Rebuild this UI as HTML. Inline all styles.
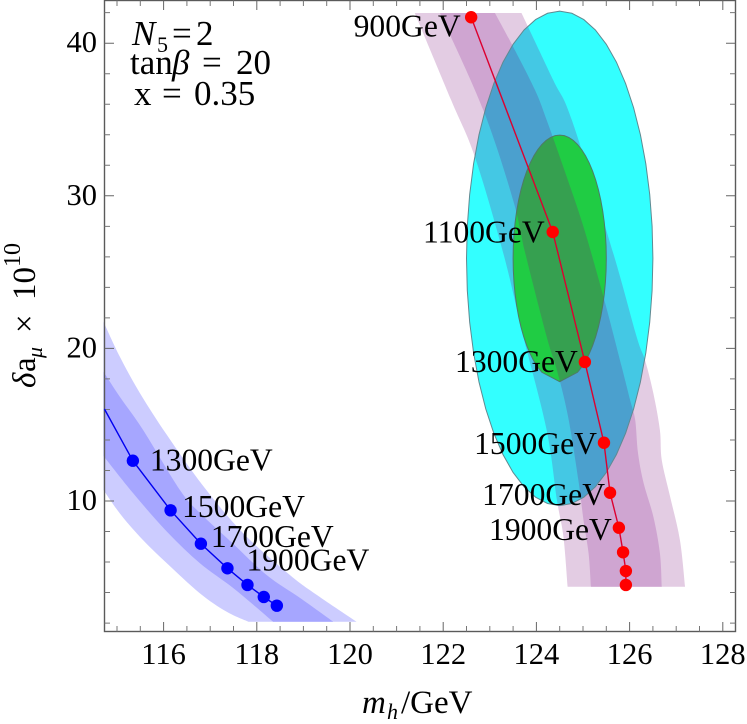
<!DOCTYPE html>
<html lang="en">
<head>
<meta charset="utf-8">
<title>Higgs mass vs muon g-2 chart</title>
<style>
html,body{margin:0;padding:0;background:#fff;width:747px;height:724px;overflow:hidden}
svg{display:block;font-family:"Liberation Serif","DejaVu Serif",serif;fill:#000}
</style>
</head>
<body>
<svg id="chart" width="747" height="724" viewBox="0 0 747 724" xmlns="http://www.w3.org/2000/svg">
  <defs>
    <clipPath id="cyan-clip"><path id="cyan-clip-path"/></clipPath>
    <clipPath id="green-clip"><path id="green-clip-path"/></clipPath>
  </defs>
  <g id="layer-bands"></g>
  <g id="layer-axes"></g>
  <g id="layer-lines"></g>
  <g id="layer-labels"></g>
  <g id="layer-points"></g>
  <g font-size="35">
    <text y="45"><tspan x="132" font-style="italic">N</tspan><tspan x="157" font-size="22" dy="7">5</tspan><tspan x="172" dy="-7">=</tspan><tspan x="196">2</tspan></text>
    <text y="74"><tspan x="130">tan</tspan><tspan x="172" font-style="italic">β</tspan><tspan x="202">=</tspan><tspan x="236">20</tspan></text>
    <text y="105"><tspan x="134">x</tspan><tspan x="162">=</tspan><tspan x="194">0.35</tspan></text>
  </g>
  <text y="713" font-size="33"><tspan x="362" font-style="italic">m</tspan><tspan x="387" font-style="italic" font-size="22" dy="6">h</tspan><tspan x="401" dy="-6">/GeV</tspan></text>
  <text transform="translate(35,388) rotate(-90)" font-size="33"><tspan x="0" font-style="italic">δ</tspan><tspan x="16">a</tspan><tspan x="30" font-style="italic" font-size="22" dy="7">μ</tspan><tspan x="55" dy="-7">×</tspan><tspan x="88">10</tspan><tspan x="121" font-size="24" dy="-15">10</tspan></text>
</svg>
<script>
// Axis ticks
const xTickLabels = [116, 118, 120, 122, 124, 126, 128];
const yTickLabels = [10, 20, 30, 40];
const xMinorTicks = [115, 115.5, 116.5, 117, 117.5, 118.5, 119, 119.5, 120.5, 121, 121.5, 122.5, 123, 123.5, 124.5, 125, 125.5, 126.5, 127, 127.5];
const yMinorTicks = [2, 4, 6, 8, 12, 14, 16, 18, 22, 24, 26, 28, 32, 34, 36, 38, 42];

// Red series
const redX = [122.6, 124.35, 125.04, 125.45, 125.58, 125.77, 125.86, 125.92, 125.92];
const redY = [41.7, 27.63, 19.11, 13.82, 10.54, 8.25, 6.64, 5.41, 4.5];
const redLabels = ["900GeV", "1100GeV", "1300GeV", "1500GeV", "1700GeV", "1900GeV"];

// Blue series
const blueX = [114.73, 115.34, 116.15, 116.80, 117.37, 117.80, 118.15, 118.43];
const blueY = [16.03, 12.64, 9.39, 7.2, 5.59, 4.5, 3.71, 3.14];
const blueLabels = ["1300GeV", "1500GeV", "1700GeV", "1900GeV"];

// Red uncertainty bands
const redOuterLeftX = [121.39, 122.17, 122.68, 123.29, 123.72, 124.22, 124.44, 124.58, 124.67];
const redOuterLeftY = [41.98, 36.28, 32.54, 26.23, 20.77, 14.65, 10.07, 7.66, 4.38];
const redOuterRightX = [123.68, 124.36, 124.76, 125.65, 126.15, 126.33, 126.51, 126.65, 126.69, 126.87, 127.08, 127.19];
const redOuterRightY = [41.98, 37.59, 34.97, 26.23, 20.77, 19.24, 17.05, 14.65, 12.69, 10.28, 7.44, 4.38];
const redInnerLeftX = [121.93, 122.86, 123.50, 123.76, 124.22, 124.44, 124.68, 124.90, 125.01, 125.12, 125.17];
const redInnerLeftY = [41.98, 35.62, 29.72, 26.25, 20.77, 18.58, 15.52, 11.38, 8.75, 6.57, 4.38];
const redInnerRightX = [123.11, 123.50, 123.97, 124.22, 124.61, 125.01, 125.44, 125.83, 126.01, 126.12, 126.18, 126.30, 126.51, 126.65, 126.69];
const redInnerRightY = [41.98, 39.77, 36.93, 34.97, 31.6, 27.97, 23.37, 18.8, 16.62, 15.31, 13.15, 11.18, 8.97, 6.59, 4.38];

// Blue uncertainty bands
const blueOuterUpperX = [114.71, 115.06, 115.49, 116.07, 116.85, 117.71, 118.71, 119.29, 120.14];
const blueOuterUpperY = [21.75, 19.46, 17.08, 14.33, 10.98, 7.88, 5.15, 3.84, 2.09];
const blueOuterLowerX = [114.71, 115.06, 115.49, 116.07, 116.78, 117.35, 117.82];
const blueOuterLowerY = [10.72, 9.19, 7.66, 5.92, 3.95, 2.75, 2.09];
const blueInnerUpperX = [114.71, 115.06, 115.56, 116.35, 116.78, 117.49, 118.21, 118.93, 119.64];
const blueInnerUpperY = [18.47, 16.83, 14.65, 10.72, 9.21, 7.2, 5.15, 3.64, 2.09];
const blueInnerLowerX = [114.71, 115.35, 116.07, 116.78, 117.5, 118.35];
const blueInnerLowerY = [12.95, 10.5, 7.99, 5.92, 4.28, 2.09];

// Experimental ellipses: centre x, centre y, half-width, half-height
const cyanEllipse = [124.5, 25.9, 2.0, 16.2];
const greenEllipse = [124.5, 25.9, 1.0, 8.08];

// Axis functions
function sx(v) { return 350 + (v - 120) * 46.6; }
function sy(v) { return 501 - (v - 10) * 15.26; }

const NS = "http://www.w3.org/2000/svg";
function make(tag, attrs, parent) {
  const node = document.createElementNS(NS, tag);
  for (const k in attrs) node.setAttribute(k, attrs[k]);
  parent.appendChild(node);
  return node;
}
function smoothSegment(pts) {
  let d = "";
  for (let i = 0; i < pts.length - 1; i++) {
    const p0 = pts[Math.max(i - 1, 0)], p1 = pts[i], p2 = pts[i + 1], p3 = pts[Math.min(i + 2, pts.length - 1)];
    d += " C" + (p1[0] + (p2[0] - p0[0]) / 6).toFixed(2) + " " + (p1[1] + (p2[1] - p0[1]) / 6).toFixed(2) + " " +
      (p2[0] - (p3[0] - p1[0]) / 6).toFixed(2) + " " + (p2[1] - (p3[1] - p1[1]) / 6).toFixed(2) + " " +
      p2[0].toFixed(2) + " " + p2[1].toFixed(2);
  }
  return d;
}
function toPixels(xs, ys) { return xs.map(function (x, i) { return [sx(x), sy(ys[i])]; }); }
function bandPath(xa, ya, xb, yb) {
  const a = toPixels(xa, ya), b = toPixels(xb, yb).reverse();
  return "M" + a[0][0].toFixed(2) + " " + a[0][1].toFixed(2) + smoothSegment(a) +
    " L" + b[0][0].toFixed(2) + " " + b[0][1].toFixed(2) + smoothSegment(b) + " Z";
}
function ellipsePath(e, steps, gapDeg) {
  const cx = sx(e[0]), cy = sy(e[1]), rx = e[2] * 46.6, ry = e[3] * 15.26;
  let d = "";
  let first = true;
  for (let i = 0; i < steps; i++) {
    const deg = 360 * i / steps;
    const fromBottom = Math.min(deg, 360 - deg);
    if (fromBottom > 0 && fromBottom < gapDeg) continue;
    const t = deg * Math.PI / 180;
    const px = cx + rx * Math.sin(t), py = cy + ry * Math.cos(t);
    d += (first ? "M" : "L") + px.toFixed(2) + " " + py.toFixed(2) + " ";
    first = false;
  }
  return d + "Z";
}

const bands = document.getElementById("layer-bands");
const redOuterD = bandPath(redOuterLeftX, redOuterLeftY, redOuterRightX, redOuterRightY);
const redInnerD = bandPath(redInnerLeftX, redInnerLeftY, redInnerRightX, redInnerRightY);
const cyanD = ellipsePath(cyanEllipse, 48, 0);
const greenD = ellipsePath(greenEllipse, 64, 22);
document.getElementById("cyan-clip-path").setAttribute("d", cyanD);
document.getElementById("green-clip-path").setAttribute("d", greenD);

// Blue bands
const blueOuter = make("path", { d: bandPath(blueOuterUpperX, blueOuterUpperY, blueOuterLowerX, blueOuterLowerY), fill: "#ccccff" }, bands);


const blueInner = make("path", { d: bandPath(blueInnerUpperX, blueInnerUpperY, blueInnerLowerX, blueInnerLowerY), fill: "#a6a6ff" }, bands);



// Red bands
const redOuter = make("path", { d: redOuterD, fill: "#e3cce3" }, bands);


const redInner = make("path", { d: redInnerD, fill: "#cfa5d1" }, bands);



// Cyan ellipse with band overlaps
const cyanFill = make("path", { d: cyanD, fill: "#33ffff" }, bands);


const cyanGroup = make("g", { "clip-path": "url(#cyan-clip)" }, bands);


make("path", { d: redOuterD, fill: "#44c8e4" }, cyanGroup);
make("path", { d: redInnerD, fill: "#4ba0ce" }, cyanGroup);
const cyanEdge = make("path", { d: cyanD, fill: "none", stroke: "#5f8a92", "stroke-width": "1" }, bands);



// Green ellipse with band overlap
const greenFill = make("path", { d: greenD, fill: "#20cc44" }, bands);


const greenGroup = make("g", { "clip-path": "url(#green-clip)" }, bands);


make("path", { d: redInnerD, fill: "#36a050" }, greenGroup);
const greenEdge = make("path", { d: greenD, fill: "none", stroke: "#4f7a68", "stroke-width": "1" }, bands);



// Axes
const axes = document.getElementById("layer-axes");
const frame = make("rect", { x: 104.5, y: 0.5, width: 631, height: 631, fill: "none", stroke: "#5a5a5a", "stroke-width": "1.4" }, axes);


function xTick(v, len, col) {
  const x = sx(v);
  make("path", { d: "M" + x + " 631.5V" + (631.5 - len) + "M" + x + " 0.5V" + (0.5 + len), stroke: col, "stroke-width": "1", fill: "none" }, axes);
}
function yTick(v, len, col) {
  const y = sy(v);
  make("path", { d: "M104.5 " + y + "H" + (104.5 + len) + "M735.5 " + y + "H" + (735.5 - len), stroke: col, "stroke-width": "1", fill: "none" }, axes);
}
xMinorTicks.forEach(function (v) { xTick(v, 5.5, "#777"); });
yMinorTicks.forEach(function (v) { yTick(v, 5.5, "#777"); });
xTickLabels.forEach(function (v) {
  xTick(v, 9.5, "#666");
  const t = make("text", { x: sx(v), y: 664, "text-anchor": "middle", "font-size": "30.5" }, axes);
  t.textContent = String(v);
  
  
});
yTickLabels.forEach(function (v) {
  yTick(v, 9.5, "#666");
  const t = make("text", { x: 97, y: sy(v) + 9, "text-anchor": "end", "font-size": "30.5" }, axes);
  t.textContent = String(v);
  
  
});

// Series lines
const lines = document.getElementById("layer-lines");
function seriesPath(xs, ys) {
  const p = toPixels(xs, ys);
  return "M" + p.map(function (q) { return q[0].toFixed(2) + " " + q[1].toFixed(2); }).join(" L");
}
const redLine = make("path", { d: seriesPath(redX, redY), fill: "none", stroke: "#dc0030", "stroke-width": "1.4" }, lines);


const blueLine = make("path", { d: seriesPath(blueX, blueY), fill: "none", stroke: "#0000f0", "stroke-width": "1.4" }, lines);



// Point labels (placed relative to their points)
const labels = document.getElementById("layer-labels");
const redGapX = [10.5, 8, 7, 7, 5, 7];
const redGapY = [19, 10.7, 10, 11.3, 12, 12.3];
redLabels.forEach(function (s, i) {
  const t = make("text", { x: sx(redX[i]) - redGapX[i], y: sy(redY[i]) + redGapY[i], "text-anchor": "end", "font-size": "31.6" }, labels);
  t.textContent = s;
  
  
});
const blueGapX = [17, 11.5, 10, 19];
const blueGapY = [10, 6.7, 3.3, 2.4];
blueLabels.forEach(function (s, i) {
  const t = make("text", { x: sx(blueX[i + 1]) + blueGapX[i], y: sy(blueY[i + 1]) + blueGapY[i], "font-size": "31.6" }, labels);
  t.textContent = s;
  
  
});

// Series points
const points = document.getElementById("layer-points");
redX.forEach(function (x, i) {
  const c = make("circle", { cx: sx(x), cy: sy(redY[i]), r: 6.2, fill: "#ff0000" }, points);
  
  
});
blueX.slice(1).forEach(function (x, i) {
  const c = make("circle", { cx: sx(x), cy: sy(blueY[i + 1]), r: 6.2, fill: "#0000ff" }, points);
  
  
});
</script>
</body>
</html>
